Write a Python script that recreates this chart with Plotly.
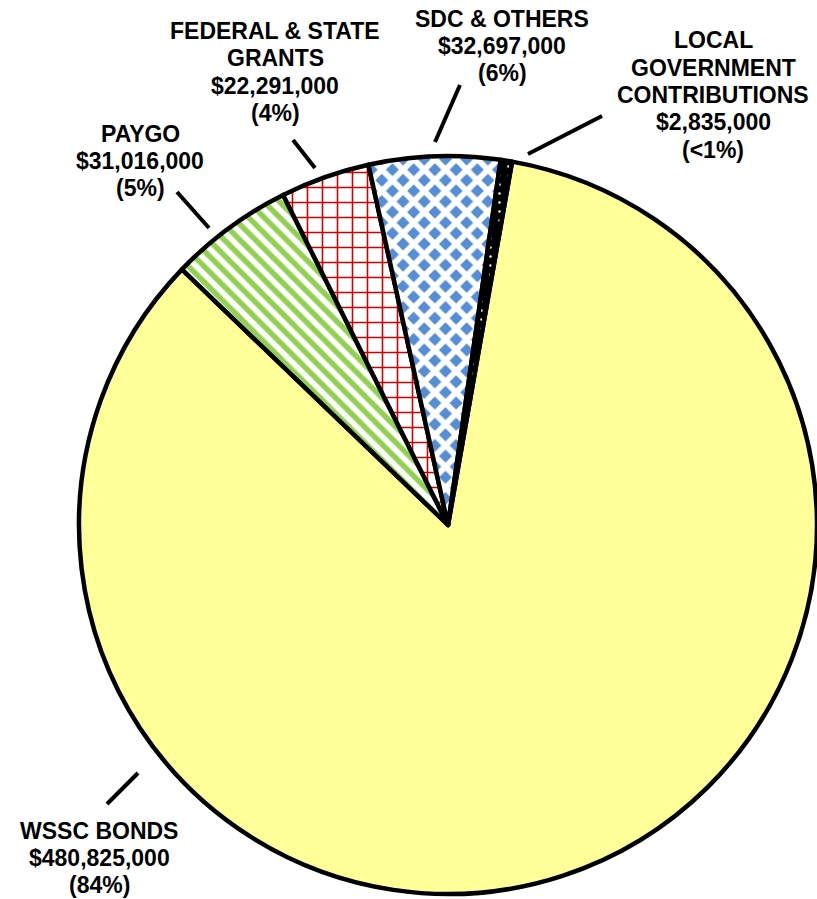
import plotly.graph_objects as go

W, H = 817, 899

# ---- data ----
categories = [["WSSC BONDS"], ["PAYGO"], ["FEDERAL & STATE", "GRANTS"], ["SDC & OTHERS"],
              ["LOCAL", "GOVERNMENT", "CONTRIBUTIONS"]]
values = [480825000, 31016000, 22291000, 32697000, 2835000]
pct_labels = ["(84%)", "(5%)", "(4%)", "(6%)", "(<1%)"]

# ---- styles ----
bg_colors = ["#FFFF99", "#FFFFFF", "#FFFFFF", "#558ED5", "#000000"]
fg_colors = ["#FFFF99", "#92D050", "#D00000", "#FFFFFF", "#FFFFFF"]
shapes_pat = ["", "\\", "+", "x", "."]
sizes_pat = [10, 11, 15, 15, 9]
solid_pat = [0.3, 0.5, 0.2, 0.62, 0.06]

# label block centers (pixels) and leader lines (pixels)
label_pos = [(99, 858), (140, 161), (275, 72), (502, 46), (713, 95)]
line_gap = 27.3
leader = [((138, 773), (107, 804)),
          ((177, 192), (209, 228)),
          ((293, 140), (315, 168)),
          ((460, 85), (435, 142)),
          ((602, 116), (528, 154))]


def px(x, y):
    return x / W, 1 - y / H


fig = go.Figure(go.Pie(
    values=values,
    labels=[" ".join(c) for c in categories],
    sort=False,
    direction="clockwise",
    rotation=10,
    textinfo="none",
    hoverinfo="label+value+percent",
    showlegend=False,
    marker=dict(
        colors=bg_colors,
        line=dict(color="#000000", width=4.5),
        pattern=dict(
            shape=shapes_pat,
            fgcolor=fg_colors,
            bgcolor=bg_colors,
            size=sizes_pat,
            solidity=solid_pat,
            fillmode="replace",
        ),
    ),
    domain=dict(x=[79 / W, 1.0], y=[1 - 895 / H, 1 - 155 / H]),
))

annotations = []
for cat, v, p, (lx, ly) in zip(categories, values, pct_labels, label_pos):
    lines = list(cat) + [f"${v:,.0f}", p]
    n = len(lines)
    for i, t in enumerate(lines):
        yy = ly + (i - (n - 1) / 2) * line_gap
        ax_, ay_ = px(lx, yy)
        annotations.append(dict(
            x=ax_, y=ay_, xref="paper", yref="paper", text=f"<b>{t}</b>",
            showarrow=False, xanchor="center", yanchor="middle", align="center",
            font=dict(family="Liberation Sans, Arial", size=23, color="#000000"),
        ))

shapes = []
for (p0, p1) in leader:
    x0, y0 = px(*p0)
    x1, y1 = px(*p1)
    shapes.append(dict(type="line", xref="paper", yref="paper",
                       x0=x0, y0=y0, x1=x1, y1=y1,
                       line=dict(color="#000000", width=4)))

fig.update_layout(
    width=W, height=H,
    margin=dict(l=0, r=0, t=0, b=0),
    paper_bgcolor="#FFFFFF",
    plot_bgcolor="#FFFFFF",
    annotations=annotations,
    shapes=shapes,
)

fig.write_html("out.html")
